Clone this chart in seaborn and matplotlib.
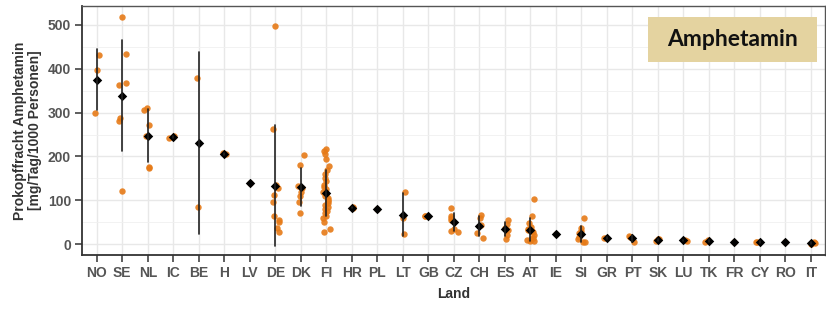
import numpy as np
import pandas as pd
import matplotlib
matplotlib.use("Agg")
import matplotlib.pyplot as plt
from matplotlib.patches import Rectangle
from matplotlib.ticker import MultipleLocator
import seaborn as sns

# Countries in plotting order
laender = ["NO", "SE", "NL", "IC", "BE", "H", "LV", "DE", "DK", "FI", "HR", "PL", "LT",
           "GB", "CZ", "CH", "ES", "AT", "IE", "SI", "GR", "PT", "SK", "LU", "TK", "FR",
           "CY", "RO", "IT"]

# per-capita loads [mg/Tag/1000 Personen]
no = [396, 431, 298]
se = [518, 434, 367, 362, 288, 280, 122]
nl = [306, 311, 272, 247, 174, 176]
ic = [243, 246]
be = [378, 85]
h = [208, 205]
lv = [140]
de = [497, 263, 135, 129, 112, 97, 65, 55, 51, 38, 27]
dk = [203, 180, 132, 127, 120, 110, 96, 72]
fi = [218, 212, 205, 195, 178, 170, 160, 150, 145, 135, 130, 125, 120, 115, 110,
      105, 100, 98, 95, 90, 85, 80, 75, 70, 65, 60, 50, 35, 27]
hr = [85, 82]
pl = [81]
lt = [119, 60, 23]
gb = [65, 64]
cz = [82, 64, 60, 55, 34, 30, 28]
ch = [67, 60, 43, 25, 14]
es = [55, 45, 38, 32, 21, 11]
at = [103, 65, 48, 40, 35, 33, 30, 28, 22, 15, 12, 9, 8, 8]
ie = [24]
si = [59, 36, 30, 25, 17, 12, 6, 4]
gr = [15, 13]
pt = [19, 16, 5]
sk = [12, 11, 8]
lu = [9, 8]
tk = [9, 5]
fr = [6]
cy = [6, 4]
ro = [6]
it = [3, 1, 5]

werte = [no, se, nl, ic, be, h, lv, de, dk, fi, hr, pl, lt, gb, cz, ch, es, at, ie,
         si, gr, pt, sk, lu, tk, fr, cy, ro, it]

df = pd.DataFrame({
    "Land": [l for l, w in zip(laender, werte) for _ in w],
    "Wert": [v for w in werte for v in w],
})

sns.set_theme(style="whitegrid")
plt.rcParams["font.family"] = ["Liberation Sans", "DejaVu Sans"]

fig = plt.figure(figsize=(8.26, 3.15), dpi=100)
ax = fig.add_axes([0.0993, 0.19, 0.8995, 0.791])

np.random.seed(3)
sns.stripplot(data=df, x="Land", y="Wert", order=laender, color="#E67A17", alpha=0.9,
              size=4.6, jitter=0.16, linewidth=0, ax=ax, zorder=2)
sns.pointplot(data=df, x="Land", y="Wert", order=laender, estimator="mean", errorbar="sd",
              linestyle="none", markers="D", color="black", markersize=2.8,
              err_kws={"linewidth": 1.2, "color": "#222222"}, ax=ax, zorder=3)

ax.set_xlim(-0.58, 28.55)
ax.set_ylim(-25, 543)
ax.yaxis.set_major_locator(MultipleLocator(100))
ax.yaxis.set_minor_locator(MultipleLocator(50))
ax.grid(which="major", color="#E8E8E8", linewidth=1.0)
ax.grid(which="minor", axis="y", color="#F0F0F0", linewidth=0.6)
ax.set_axisbelow(True)

for s in ax.spines.values():
    s.set_color("#555555")
    s.set_linewidth(1.0)
ax.spines["left"].set_color("#333333")
ax.spines["bottom"].set_color("#333333")
ax.spines["left"].set_linewidth(1.3)
ax.spines["bottom"].set_linewidth(1.3)

ax.tick_params(axis="both", which="major", length=5, width=1.1, color="#333333",
               labelcolor="#555555", labelsize=10, pad=3, bottom=True, left=True)
ax.tick_params(axis="y", which="minor", length=0)
for lab in ax.get_xticklabels() + ax.get_yticklabels():
    lab.set_fontweight("bold")

ax.set_xlabel("Land", fontsize=10, fontweight="bold", color="#333333", labelpad=5)
ax.set_ylabel("Prokopffracht Amphetamin\n[mg/Tag/1000 Personen]", fontsize=10,
              fontweight="bold", color="#333333", labelpad=4, linespacing=1.1)

# title box in the upper right corner
fig.patches.append(Rectangle((0.7841, 0.8044), 0.2046, 0.1429, transform=fig.transFigure,
                             facecolor="#E4D3A0", edgecolor="none", zorder=5))
fig.text(0.8864, 0.8756, "Amphetamin", ha="center", va="center", fontsize=16.5,
         fontweight="bold", family=["Lato", "DejaVu Sans"], color="#111111", zorder=6)

fig.savefig("out.png", dpi=100)
